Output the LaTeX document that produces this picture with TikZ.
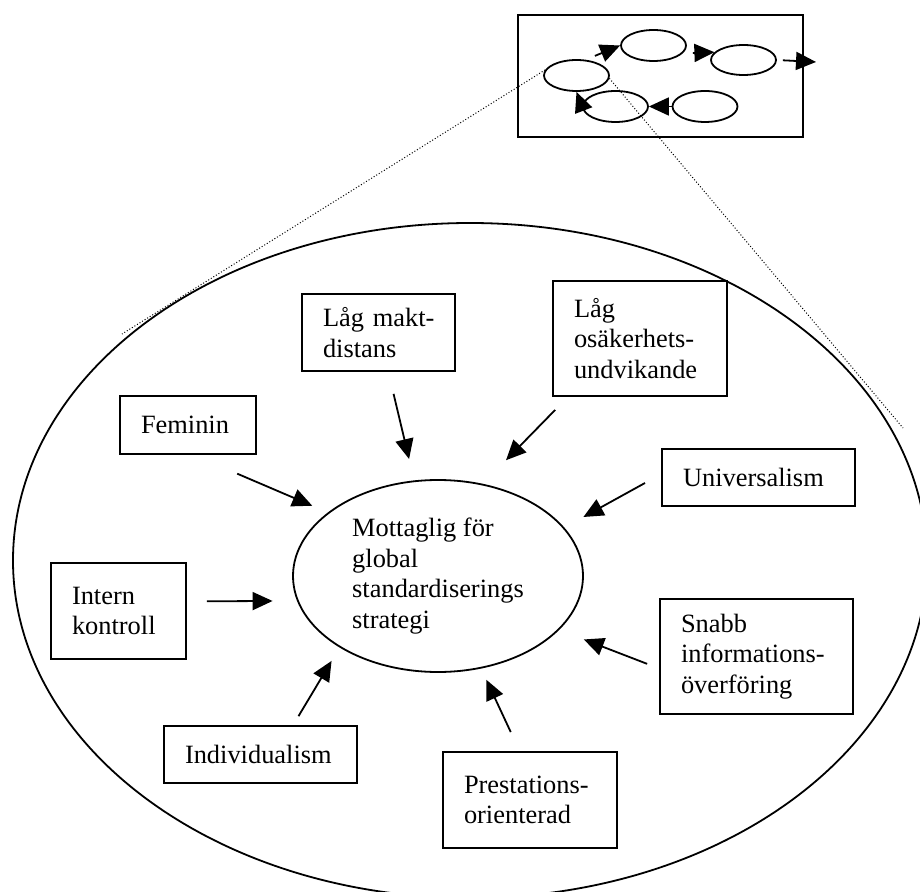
\documentclass[tikz,border=0pt]{standalone}
\usepackage{fontspec}
\setmainfont{Liberation Serif}
\usepackage{tikz}
\usetikzlibrary{arrows.meta, positioning, calc, shapes.geometric}

\begin{document}
\begin{tikzpicture}[
  x=0.5pt, y=-0.5pt,
  every node/.style={font=\fontsize{13.2}{15.2}\selectfont},
  factor/.style 2 args={rectangle, draw, fill=white, line width=0.9pt, align=left,
                        inner xsep=10.5pt, inner ysep=0pt,
                        text width=#1, minimum height=#2},
  core/.style={ellipse, draw, fill=white, line width=0.9pt, align=left, inner sep=0pt,
               minimum width=145pt, minimum height=96pt},
  culture/.style={ellipse, draw, line width=0.9pt, inner sep=0pt,
                  minimum width=457pt, minimum height=337.5pt},
  stage/.style={ellipse, draw, fill=white, line width=0.9pt, inner sep=0pt,
                minimum width=32.5pt, minimum height=15.5pt},
  arrow/.style={-{Triangle[length=10pt, width=9pt]}, line width=0.9pt},
  lens/.style={densely dotted, line width=0.5pt}
]
  \useasboundingbox (0,0) rectangle (920,892);
  \clip (0,0) rectangle (920,892);

  \node[culture] (culture) at (470,560.5) {};
  \node[draw, line width=0.9pt, inner sep=0pt, minimum width=142.5pt,
        minimum height=61pt] (inset) at (660.5,76) {};

  \node[factor={47pt}{29pt}]     (fem)    at (188,425)     {Feminin};
  \node[factor={55.5pt}{38.5pt}] (makt)   at (378.5,332.5) {\leavevmode\rlap{Låg makt-}\\distans};
  \node[factor={66pt}{57.5pt}]   (osak)   at (640,338.5)   {Låg\\osäkerhets-\\undvikande};
  \node[factor={75.5pt}{28.5pt}] (univ)   at (758.5,477.5) {Universalism};
  \node[factor={46.5pt}{48pt}]   (intern) at (118.5,611)   {Intern\\kontroll};
  \node[factor={75.5pt}{28.5pt}] (indiv)  at (260.5,754.5) {Individualism};
  \node[factor={66pt}{48pt}]     (prest)  at (530,800)     {Prestations-\\orienterad};
  \node[factor={75.5pt}{57.5pt}] (snabb)  at (756.5,656.5) {Snabb\\informations-\\överföring};

  \node[core] (goal) at (438,576) {Mottaglig för\\global\\standardiserings\\strategi};

  \draw[arrow, shorten <=23.9pt, shorten >=8.5pt]  (fem.-80)    -- (goal.150);
  \draw[arrow, shorten <=11.3pt, shorten >=11pt]   (makt.-76)   -- (goal.104);
  \draw[arrow, shorten <=9.1pt, shorten >=16.5pt]  (osak.-141)  -- (goal.64);
  \draw[arrow, shorten <=9.2pt, shorten >=10.9pt]  (univ.178)   -- (goal.21);
  \draw[arrow, shorten <=10pt, shorten >=12.2pt]   (intern.8)   -- (goal.-170);
  \draw[arrow, shorten <=5.2pt, shorten >=7.8pt]   (indiv.42)   -- (goal.-144);
  \draw[arrow, shorten <=10.5pt, shorten >=6.2pt]  (prest.102)  -- (goal.-65);
  \draw[arrow, shorten <=6.4pt, shorten >=13.2pt]  (snabb.-173) -- (goal.-24);

  \node[stage] (e1) at (576.5,75.5) {};
  \node[stage] (e2) at (653.5,45.5) {};
  \node[stage, minimum height=15pt] (e3) at (743.5,60) {};
  \node[stage] (e4) at (615.5,106.5) {};
  \node[stage] (e5) at (705,106.5) {};
  \coordinate (exit) at (816,62);

  \draw[arrow, shorten <=5pt]  (e1.60)   -- (e2.west);
  \draw[arrow, shorten <=5pt]  (e2.-15)  -- (e3.165);
  \draw[arrow, shorten <=3pt]  (e3.east) -- (exit);
  \draw[arrow]                 (e5.west) -- (e4.east);
  \draw[arrow]                 (e4.west) -- (e1.south);

  \coordinate (lensL) at (122,334);
  \coordinate (lensR) at (903,428);
  \draw[lens] (e1.170) -- (lensL);
  \draw[lens] (e1.-5)  -- (lensR);
\end{tikzpicture}
\end{document}
